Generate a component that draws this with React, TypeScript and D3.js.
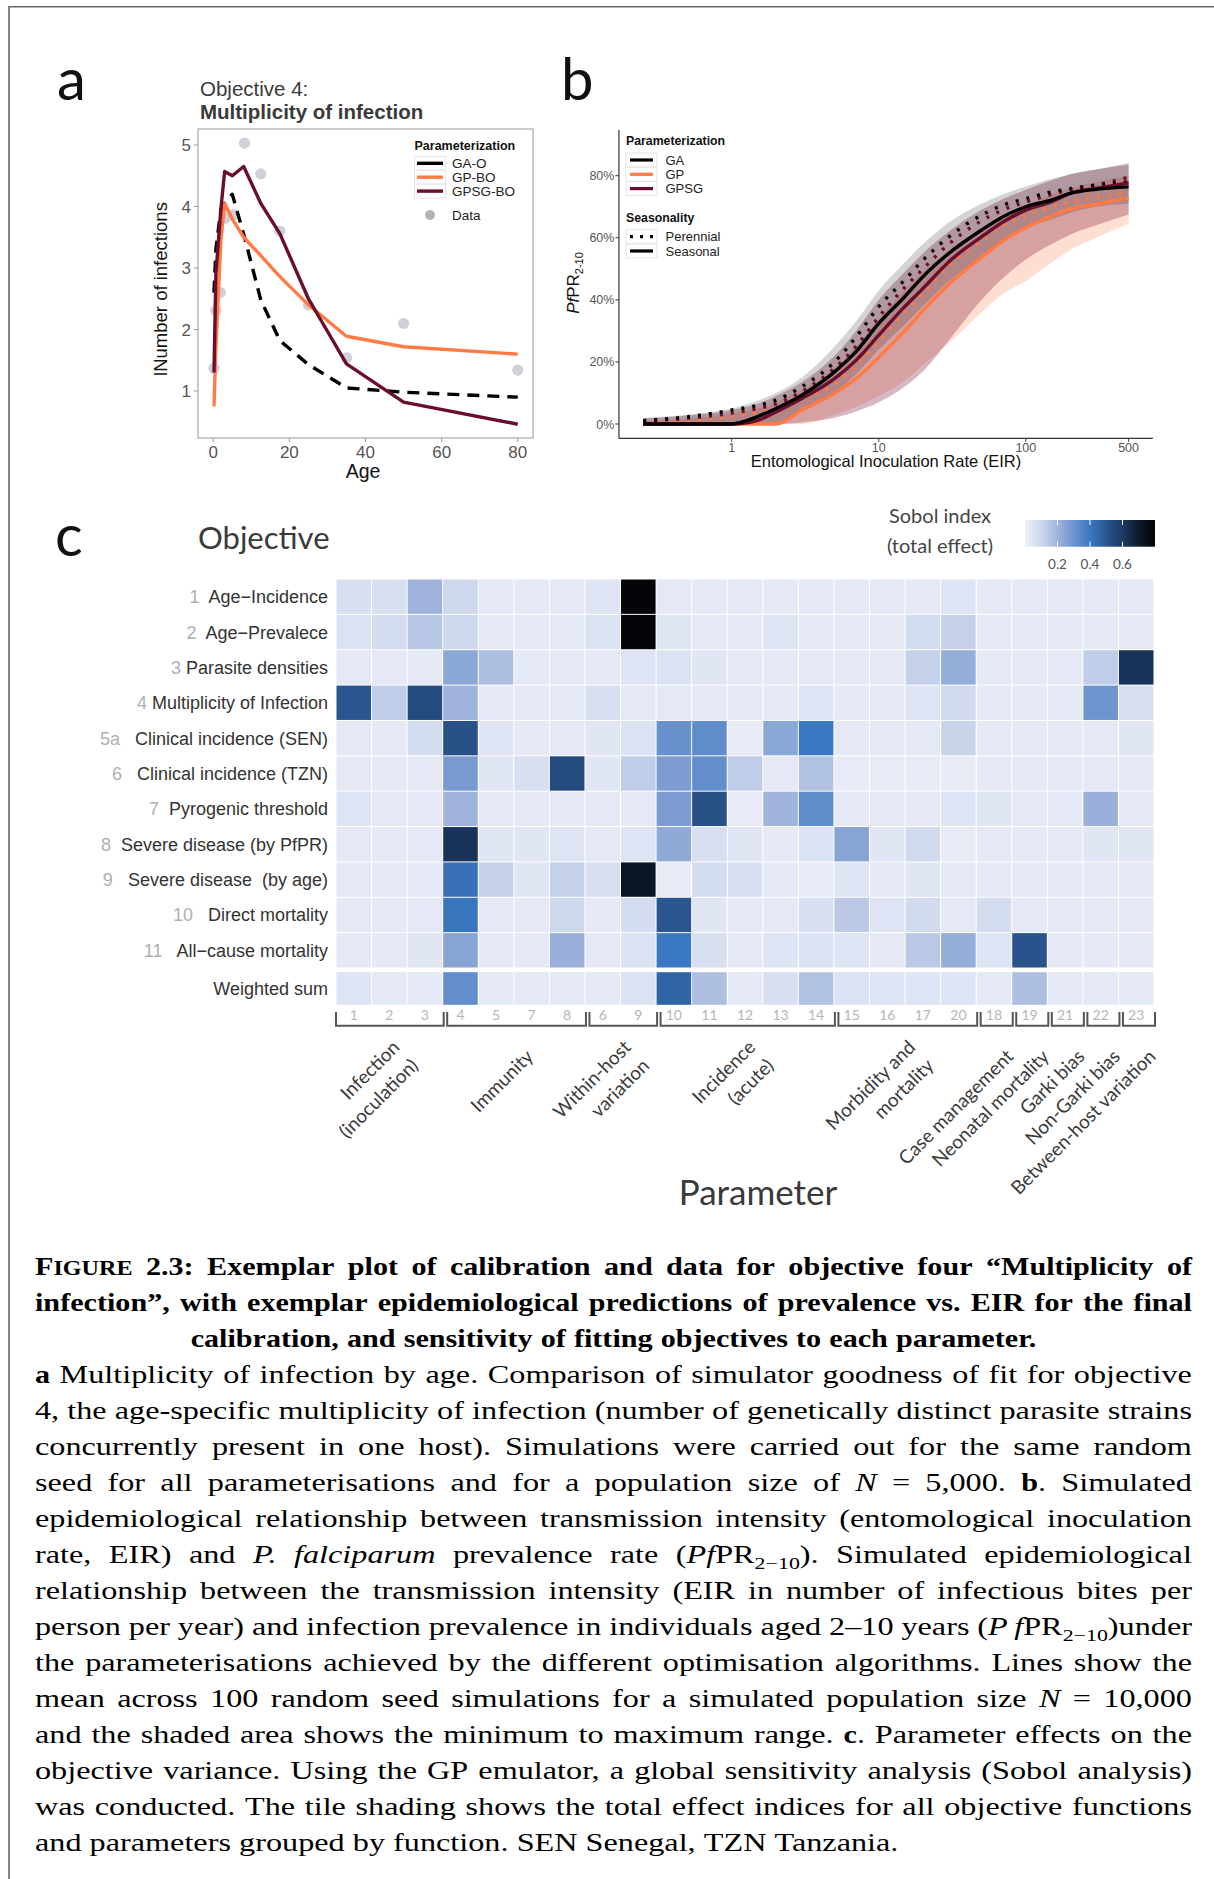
import React, { useMemo } from 'react';
import * as d3 from 'd3';

const SANS = '"Liberation Sans", Arial, sans-serif';
const HUMAN = 'Lato, "Open Sans", sans-serif';
const SERIF = '"Liberation Serif", "Times New Roman", serif';

// ---------- Panel a: multiplicity of infection by age ----------
const moiDataAges = [0.2, 0.7, 1.9, 3.2, 5.3, 8.2, 12.5, 17.5, 25, 35, 50, 80];
const moiDataValues = [1.37, 2.31, 2.6, 3.81, 3.87, 5.03, 4.53, 3.6, 2.4, 1.54, 2.1, 1.34];
const moiModelAges = [0.2, 0.7, 2, 3, 5, 8, 12.5, 17.5, 25, 35, 50, 80];
const moiGAO = [2.6, 3.3, 3.95, 4.05, 4.2, 3.55, 2.48, 1.82, 1.43, 1.05, 0.98, 0.9];
const moiGPBO = [0.75, 1.7, 3.45, 4.05, 3.8, 3.5, 3.2, 2.86, 2.4, 1.89, 1.72, 1.6];
const moiGPSGBO = [1.3, 2.9, 3.95, 4.57, 4.5, 4.65, 4.05, 3.56, 2.5, 1.44, 0.82, 0.46];
const moiAgeTicks = [0, 20, 40, 60, 80];
const moiCountTicks = [1, 2, 3, 4, 5];
const moiLegend = ['GA-O', 'GP-BO', 'GPSG-BO'];

// ---------- Panel b: PfPR(2-10) vs EIR ----------
const eirLevels = [0.25, 0.5, 1, 1.5, 2, 3, 5, 7, 10, 15, 20, 30, 50, 70, 100, 150, 200, 300, 500];
const gaSeasonal = [0, 0, 0, 2.4, 5, 9.3, 16.8, 23.3, 32.4, 41, 47.5, 55, 62.5, 66.8, 70, 72.2, 74.3, 75.6, 76.4];
const gaPerennial = [1.1, 2.3, 4.5, 6, 7.7, 12, 20, 28, 37.8, 46.4, 52.8, 60.3, 67.3, 70.5, 72.6, 74.8, 75.8, 77, 78];
const gpsgSeasonal = [0, 0, 0, 1.2, 3.9, 8.2, 14.6, 20.5, 28.6, 37.8, 43.7, 52.3, 60.3, 65.1, 68.9, 71.6, 74.3, 75.9, 77.7];
const gpsgPerennial = [1.0, 1.8, 3.5, 5, 6.5, 10.5, 18, 25, 34.5, 44, 50, 58, 65.5, 69, 71.5, 74, 75.5, 77, 79.5];
const gpSeasonal = [0, 0, 0, 0, 0, 4.5, 9.9, 14.6, 21.5, 30, 36.5, 45, 53.7, 59, 63.3, 67, 69.2, 70.8, 72.9];
const gpPerennial = [0.5, 1.2, 2.5, 3.8, 5, 8, 13, 19, 26.5, 36, 42, 51, 59, 64, 67, 70, 71.5, 73, 74.5];
const gaUpper = [2.0, 3.0, 5.0, 7.5, 10, 15, 25, 33, 43, 52, 58, 65, 71, 74, 76.5, 79, 80.5, 82, 83.5];
const gaLower = [0, 0, 0, 0, 0.5, 4, 10, 16, 24, 32, 38, 46, 54, 59, 63, 66, 68, 70, 71];
const gpsgUpper = [1.8, 2.7, 4.5, 6.5, 9, 13.5, 22, 30, 40, 49, 55, 62, 69, 72.5, 75.5, 78.5, 80.5, 82, 84];
const gpsgLower = [0, 0, 0, 0, 0, 0.5, 2, 4, 7, 12, 17, 27, 40, 47, 53, 58, 61, 64, 67.5];
const gpUpper = [1.0, 1.8, 3.5, 5, 7, 11, 18, 25, 34, 43, 49, 56, 63, 67, 70.5, 74, 76, 78, 80];
const gpLower = [0, 0, 0, 0, 0, 0, 3, 5.5, 9, 14, 19, 26, 36, 42, 46, 52, 56, 60, 64.5];
const eirTicks = [1, 10, 100, 500];
const prevTicks = [0, 20, 40, 60, 80];
const parLegend = ['GA', 'GP', 'GPSG'];
const seasonLegend = ['Perennial', 'Seasonal'];

// ---------- Panel c: Sobol total-effect indices ----------
const paramIds = ['1', '2', '3', '4', '5', '7', '8', '6', '9', '10', '11', '12', '13', '14', '15', '16', '17', '20', '18', '19', '21', '22', '23'];
const groupNames = [
  ['Infection', '(inoculation)'],
  ['Immunity'],
  ['Within-host', 'variation'],
  ['Incidence', '(acute)'],
  ['Morbidity and', 'mortality'],
  ['Case management'],
  ['Neonatal mortality'],
  ['Garki bias'],
  ['Non-Garki bias'],
  ['Between-host variation'],
];
const groupSizes = [3, 4, 2, 5, 4, 1, 1, 1, 1, 1];
const objectiveNums = ['1', '2', '3', '4', '5a', '6', '7', '8', '9', '10', '11', ''];
const objectiveNames = [
  'Age−Incidence', 'Age−Prevalece', 'Parasite densities', 'Multiplicity of Infection',
  'Clinical incidence (SEN)', 'Clinical incidence (TZN)', 'Pyrogenic threshold',
  'Severe disease (by PfPR)', 'Severe disease  (by age)', 'Direct mortality',
  'All−cause mortality', 'Weighted sum',
];
const objectiveGaps = [2, 2, 1, 1, 3, 3, 2, 2, 3, 3, 3, 0];
const sobolTotal = [
  [0.07, 0.07, 0.2, 0.1, 0.03, 0.03, 0.03, 0.05, 0.78, 0.03, 0.03, 0.03, 0.03, 0.03, 0.03, 0.03, 0.03, 0.05, 0.03, 0.03, 0.03, 0.03, 0.03],
  [0.06, 0.08, 0.15, 0.1, 0.03, 0.03, 0.03, 0.06, 0.78, 0.04, 0.03, 0.03, 0.05, 0.03, 0.03, 0.03, 0.08, 0.12, 0.03, 0.03, 0.03, 0.03, 0.03],
  [0.03, 0.03, 0.03, 0.24, 0.17, 0.03, 0.03, 0.03, 0.05, 0.06, 0.04, 0.03, 0.03, 0.03, 0.03, 0.03, 0.12, 0.22, 0.03, 0.03, 0.03, 0.13, 0.62],
  [0.5, 0.13, 0.54, 0.2, 0.03, 0.03, 0.03, 0.07, 0.03, 0.03, 0.03, 0.03, 0.03, 0.05, 0.03, 0.03, 0.05, 0.09, 0.03, 0.03, 0.03, 0.3, 0.07],
  [0.03, 0.03, 0.08, 0.52, 0.05, 0.03, 0.03, 0.04, 0.06, 0.31, 0.33, 0.02, 0.24, 0.4, 0.03, 0.03, 0.03, 0.11, 0.03, 0.03, 0.03, 0.03, 0.04],
  [0.03, 0.03, 0.03, 0.28, 0.04, 0.07, 0.54, 0.04, 0.13, 0.27, 0.32, 0.13, 0.03, 0.16, 0.02, 0.02, 0.02, 0.02, 0.03, 0.03, 0.03, 0.03, 0.03],
  [0.05, 0.03, 0.03, 0.2, 0.03, 0.03, 0.03, 0.03, 0.03, 0.27, 0.52, 0.02, 0.2, 0.33, 0.03, 0.03, 0.03, 0.05, 0.04, 0.03, 0.03, 0.21, 0.03],
  [0.03, 0.03, 0.03, 0.62, 0.04, 0.04, 0.05, 0.03, 0.05, 0.23, 0.07, 0.04, 0.03, 0.06, 0.25, 0.04, 0.09, 0.02, 0.03, 0.03, 0.03, 0.04, 0.04],
  [0.03, 0.03, 0.03, 0.42, 0.12, 0.04, 0.12, 0.07, 0.72, 0.02, 0.08, 0.07, 0.03, 0.02, 0.05, 0.03, 0.04, 0.03, 0.03, 0.03, 0.03, 0.03, 0.03],
  [0.03, 0.03, 0.03, 0.41, 0.03, 0.03, 0.1, 0.03, 0.08, 0.5, 0.04, 0.03, 0.03, 0.07, 0.14, 0.05, 0.09, 0.03, 0.08, 0.03, 0.03, 0.03, 0.03],
  [0.03, 0.03, 0.04, 0.25, 0.03, 0.03, 0.21, 0.03, 0.06, 0.4, 0.07, 0.03, 0.05, 0.06, 0.05, 0.03, 0.14, 0.22, 0.05, 0.51, 0.03, 0.03, 0.03],
  [0.05, 0.03, 0.03, 0.32, 0.03, 0.03, 0.03, 0.03, 0.06, 0.46, 0.17, 0.03, 0.07, 0.16, 0.06, 0.05, 0.05, 0.05, 0.03, 0.17, 0.03, 0.03, 0.03],
];
const sobolTicks = [0.2, 0.4, 0.6];

// ---------- Caption ----------
// Markup: *bold*, _italic_, ~subscript~, {small caps}
const captionLines: [string, 'justify' | 'center' | 'left'][] = [
  ['*F{IGURE} 2.3:  Exemplar plot of calibration and data for objective four “Multiplicity of*', 'justify'],
  ['*infection”, with exemplar epidemiological predictions of prevalence vs. EIR for the final*', 'justify'],
  ['*calibration, and sensitivity of fitting objectives to each parameter.*', 'center'],
  ['*a* Multiplicity of infection by age.  Comparison of simulator goodness of fit for objective', 'justify'],
  ['4, the age-specific multiplicity of infection (number of genetically distinct parasite strains', 'justify'],
  ['concurrently present in one host).  Simulations were carried out for the same random', 'justify'],
  ['seed for all parameterisations and for a population size of _N_ = 5,000.  *b*.  Simulated', 'justify'],
  ['epidemiological relationship between transmission intensity (entomological inoculation', 'justify'],
  ['rate, EIR) and _P. falciparum_ prevalence rate (_Pf_PR~2−10~).  Simulated epidemiological', 'justify'],
  ['relationship between the transmission intensity (EIR in number of infectious bites per', 'justify'],
  ['person per year) and infection prevalence in individuals aged 2–10 years (_P\u2009f_PR~2−10~)under', 'justify'],
  ['the parameterisations achieved by the different optimisation algorithms.  Lines show the', 'justify'],
  ['mean across 100 random seed simulations for a simulated population size _N_ = 10,000', 'justify'],
  ['and the shaded area shows the minimum to maximum range. *c*. Parameter effects on the', 'justify'],
  ['objective variance.  Using the GP emulator, a global sensitivity analysis (Sobol analysis)', 'justify'],
  ['was conducted.  The tile shading shows the total effect indices for all objective functions', 'justify'],
  ['and parameters grouped by function. SEN Senegal, TZN Tanzania.', 'left'],
];

const C_BLACK = '#000000';
const C_ORANGE = '#ff7a45';
const C_MAROON = '#6b0d2c';

function PanelA() {
  const x = d3.scaleLinear().domain([-4, 84]).range([198, 533]);
  const y = d3.scaleLinear().domain([1, 5]).range([391, 145]);
  const line = (vals: number[]) =>
    d3.line<number>().x((_, i) => x(moiModelAges[i])).y((d) => y(d))(vals) || '';
  const colors = [C_BLACK, C_ORANGE, C_MAROON];
  const series = [moiGAO, moiGPBO, moiGPSGBO];
  const top = 129, bottom = 438;
  return (
    <g>
      <text x={57} y={100} fontFamily={HUMAN} fontSize={58} fill="#111">a</text>
      <text x={200} y={96} fontFamily={SANS} fontSize={20.5} fill="#3a3a3a">Objective 4:</text>
      <text x={200} y={119} fontFamily={SANS} fontSize={20.5} fontWeight="bold" fill="#3a3a3a">Multiplicity of infection</text>
      <rect x={x.range()[0]} y={top} width={x.range()[1] - x.range()[0]} height={bottom - top} fill="#fff" stroke="#b5b5b5" strokeWidth={1.4} />
      {moiCountTicks.map((t) => (
        <g key={t}>
          <line x1={194} x2={198} y1={y(t)} y2={y(t)} stroke="#999" strokeWidth={1} />
          <text x={191} y={y(t)} dy="0.36em" textAnchor="end" fontFamily={SANS} fontSize={17} fill="#555">{t}</text>
        </g>
      ))}
      {moiAgeTicks.map((t) => (
        <g key={t}>
          <line x1={x(t)} x2={x(t)} y1={bottom} y2={bottom + 4} stroke="#999" strokeWidth={1} />
          <text x={x(t)} y={458} textAnchor="middle" fontFamily={SANS} fontSize={17} fill="#555">{t}</text>
        </g>
      ))}
      <text x={363} y={478} textAnchor="middle" fontFamily={SANS} fontSize={19.5} fill="#111">Age</text>
      <text transform="translate(167,289) rotate(-90)" textAnchor="middle" fontFamily={SANS} fontSize={18.5} fill="#111">lNumber of infections</text>
      {moiDataAges.map((a, i) => (
        <circle key={i} cx={x(a)} cy={y(moiDataValues[i])} r={5.6} fill="#cfd0d8" />
      ))}
      {series.map((s, k) => (
        <path key={k} d={line(s)} fill="none" stroke={colors[k]} strokeWidth={3.4}
          strokeDasharray={k === 0 ? '12 8' : undefined} strokeLinejoin="round" />
      ))}
      {/* legend */}
      <text x={414.5} y={150} fontFamily={SANS} fontSize={12.5} fontWeight="bold" fill="#111">Parameterization</text>
      {moiLegend.map((name, k) => {
        const cy = 163.3 + k * 13.9;
        return (
          <g key={name}>
            <rect x={414.5} y={cy - 7} width={31.3} height={14} fill="#fff" stroke="#e3e3e3" strokeWidth={1} />
            <line x1={417} x2={443} y1={cy} y2={cy} stroke={colors[k]} strokeWidth={3.4} />
            <text x={452} y={cy} dy="0.36em" fontFamily={SANS} fontSize={13.5} fill="#222">{name}</text>
          </g>
        );
      })}
      <circle cx={430} cy={215} r={5} fill="#b3b3b8" />
      <text x={452} y={215} dy="0.36em" fontFamily={SANS} fontSize={13.5} fill="#222">Data</text>
    </g>
  );
}

function PanelB() {
  const x = d3.scaleLog().domain([0.25, 500]).range([643.2, 1128.6]);
  const y = d3.scaleLinear().domain([0, 80]).range([424, 175.7]);
  const area = (lo: number[], hi: number[]) =>
    d3.area<number>().x((_, i) => x(eirLevels[i])).y0((_, i) => y(lo[i])).y1((_, i) => y(hi[i])).curve(d3.curveMonotoneX)(lo) || '';
  const line = (v: number[]) =>
    d3.line<number>().x((_, i) => x(eirLevels[i])).y((d) => y(d)).curve(d3.curveMonotoneX)(v) || '';
  const pad = (x.range()[1] - x.range()[0]) * 0.05;
  const axisLeft = x.range()[0] - pad;
  const axisRight = x.range()[1] + pad;
  const axisBottom = 438.3;
  const ribbons = [
    { lo: gpLower, hi: gpUpper, fill: '#ff8a5c', op: 0.28 },
    { lo: gpsgLower, hi: gpsgUpper, fill: '#7a1434', op: 0.3 },
    { lo: gaLower, hi: gaUpper, fill: '#000', op: 0.17 },
  ];
  const perennial = [
    { v: gpPerennial, c: C_ORANGE },
    { v: gpsgPerennial, c: C_MAROON },
    { v: gaPerennial, c: C_BLACK },
  ];
  const seasonal = [
    { v: gpSeasonal, c: C_ORANGE },
    { v: gpsgSeasonal, c: C_MAROON },
    { v: gaSeasonal, c: C_BLACK },
  ];
  const parColors = [C_BLACK, C_ORANGE, C_MAROON];
  return (
    <g>
      <text x={561} y={100} fontFamily={HUMAN} fontSize={58} fill="#111">b</text>
      {ribbons.map((r, k) => (
        <path key={k} d={area(r.lo, r.hi)} fill={r.fill} fillOpacity={r.op} stroke="none" />
      ))}
      {perennial.map((s, k) => (
        <path key={'p' + k} d={line(s.v)} fill="none" stroke={s.c} strokeWidth={3.4} strokeDasharray="3 8" />
      ))}
      {seasonal.map((s, k) => (
        <path key={'s' + k} d={line(s.v)} fill="none" stroke={s.c} strokeWidth={3.4} strokeLinejoin="round" />
      ))}
      <line x1={axisLeft} x2={axisLeft} y1={130} y2={axisBottom} stroke="#333" strokeWidth={1.2} />
      <line x1={axisLeft} x2={axisRight} y1={axisBottom} y2={axisBottom} stroke="#333" strokeWidth={1.2} />
      {prevTicks.map((t) => (
        <g key={t}>
          <line x1={axisLeft - 3.5} x2={axisLeft} y1={y(t)} y2={y(t)} stroke="#333" strokeWidth={1} />
          <text x={axisLeft - 4.5} y={y(t)} dy="0.36em" textAnchor="end" fontFamily={SANS} fontSize={12.5} fill="#555">{t}%</text>
        </g>
      ))}
      {eirTicks.map((t) => (
        <g key={t}>
          <line x1={x(t)} x2={x(t)} y1={axisBottom} y2={axisBottom + 3.5} stroke="#333" strokeWidth={1} />
          <text x={x(t)} y={452} textAnchor="middle" fontFamily={SANS} fontSize={12.5} fill="#555">{t}</text>
        </g>
      ))}
      <text x={886} y={467} textAnchor="middle" fontFamily={SANS} fontSize={16.5} fill="#111">Entomological Inoculation Rate (EIR)</text>
      <text transform="translate(579,283) rotate(-90)" textAnchor="middle" fontFamily={SANS} fontSize={17} fill="#111">
        <tspan fontStyle="italic">Pf</tspan>PR<tspan fontSize={11} dy={4}>2-10</tspan>
      </text>
      {/* legend */}
      <text x={626} y={145} fontFamily={SANS} fontSize={12.3} fontWeight="bold" fill="#111">Parameterization</text>
      {parLegend.map((name, k) => {
        const cy = 160 + k * 14.3;
        return (
          <g key={name}>
            <rect x={626} y={cy - 7} width={31} height={14} fill="#fff" stroke="#e3e3e3" strokeWidth={1} />
            <line x1={630} x2={653} y1={cy} y2={cy} stroke={parColors[k]} strokeWidth={3.2} />
            <text x={665.5} y={cy} dy="0.36em" fontFamily={SANS} fontSize={13} fill="#222">{name}</text>
          </g>
        );
      })}
      <text x={626} y={221.5} fontFamily={SANS} fontSize={12.3} fontWeight="bold" fill="#111">Seasonality</text>
      {seasonLegend.map((name, k) => {
        const cy = 236.7 + k * 14.3;
        return (
          <g key={name}>
            <rect x={626} y={cy - 7} width={31} height={14} fill="#fff" stroke="#e3e3e3" strokeWidth={1} />
            <line x1={630} x2={653} y1={cy} y2={cy} stroke="#000" strokeWidth={3.2}
              strokeDasharray={k === 0 ? '3 7' : undefined} />
            <text x={665.5} y={cy} dy="0.36em" fontFamily={SANS} fontSize={13} fill="#222">{name}</text>
          </g>
        );
      })}
    </g>
  );
}

const sobolColor = d3
  .scaleLinear<string>()
  .domain([0, 0.1, 0.2, 0.3, 0.4, 0.5, 0.6, 0.7, 0.8])
  .range(['#eef0f8', '#ced8ed', '#9fb3dc', '#6e94cd', '#3b78c2', '#2a5690', '#1c3a62', '#0e1b2e', '#000000'])
  .interpolate(d3.interpolateRgb)
  .clamp(true);

function PanelC() {
  const x = d3.scaleBand<string>().domain(paramIds).range([336, 1154]);
  const mainRows = d3.scaleBand<number>().domain(d3.range(11)).range([579, 968]);
  const bw = x.bandwidth();
  const rowTop = (i: number) => (i < 11 ? (mainRows(i) as number) : 971.7);
  const rowH = (i: number) => (i < 11 ? mainRows.bandwidth() : 33.6);
  const cb = d3.scaleLinear().domain([0, 0.8]).range([1025, 1155]);

  // group extents along the parameter axis
  let cursor = 0;
  const groups = groupSizes.map((n, g) => {
    const first = paramIds[cursor];
    const last = paramIds[cursor + n - 1];
    cursor += n;
    const x0 = (x(first) as number) + (g === 0 ? 0 : 4.5);
    const x1 = (x(last) as number) + bw + 1;
    const cx = ((x(first) as number) + (x(last) as number) + bw) / 2;
    return { x0, x1, cx, name: groupNames[g] };
  });

  return (
    <g>
      <text x={55} y={556} fontFamily={HUMAN} fontSize={58} fill="#111">c</text>
      <text x={198} y={549} fontFamily={HUMAN} fontSize={31} fill="#3a3a3a">Objective</text>
      <text x={940} y={523} textAnchor="middle" fontFamily={HUMAN} fontSize={20} fill="#444">Sobol index</text>
      <text x={940} y={553} textAnchor="middle" fontFamily={HUMAN} fontSize={20} fill="#444">(total effect)</text>
      <defs>
        <linearGradient id="sobolGrad" x1="0" x2="1" y1="0" y2="0">
          {d3.range(0, 1.0001, 0.05).map((o) => (
            <stop key={o} offset={o} stopColor={sobolColor(o * 0.8)} />
          ))}
        </linearGradient>
      </defs>
      <rect x={cb.range()[0]} y={520} width={cb.range()[1] - cb.range()[0]} height={26.7} fill="url(#sobolGrad)" />
      {sobolTicks.map((t) => (
        <g key={t}>
          <line x1={cb(t)} x2={cb(t)} y1={520} y2={525} stroke="#fff" strokeWidth={1} />
          <line x1={cb(t)} x2={cb(t)} y1={541.7} y2={546.7} stroke="#fff" strokeWidth={1} />
          <text x={cb(t)} y={569} textAnchor="middle" fontFamily={HUMAN} fontSize={13.5} fill="#555">{t}</text>
        </g>
      ))}
      {sobolTotal.map((row, i) =>
        row.map((v, j) => (
          <rect key={i + '-' + j} x={(x(paramIds[j]) as number) + 0.5} y={rowTop(i) + 0.5}
            width={bw - 1} height={rowH(i) - 1} fill={sobolColor(v)} />
        ))
      )}
      {objectiveNames.map((name, i) => (
        <text key={name} x={328} y={rowTop(i) + rowH(i) / 2} dy="0.36em" textAnchor="end"
          fontFamily={SANS} fontSize={18} fill="#333" xmlSpace="preserve" style={{ whiteSpace: 'pre' }}>
          <tspan fill="#b0b0b0">{objectiveNums[i]}</tspan>
          {' '.repeat(objectiveGaps[i]) + name}
        </text>
      ))}
      {paramIds.map((id) => (
        <text key={id} x={(x(id) as number) + bw / 2} y={1020} textAnchor="middle"
          fontFamily={HUMAN} fontSize={14} fill="#b5b5b5">{id}</text>
      ))}
      {groups.map((g, k) => (
        <g key={k}>
          <path d={`M${g.x0},1012 V1025.8 H${g.x1} V1012`} fill="none" stroke="#555" strokeWidth={2} />
          <text transform={`translate(${g.cx + 16},1053) rotate(-45)`} textAnchor="end"
            fontFamily={HUMAN} fontSize={19} fill="#3a3a3a">
            {g.name.map((ln, li) => (
              <tspan key={li} x={0} y={(li - (g.name.length - 1) / 2) * 26} dy="0.35em">{ln}</tspan>
            ))}
          </text>
        </g>
      ))}
      <text x={758} y={1205} textAnchor="middle" fontFamily={HUMAN} fontSize={35} fill="#3a3a3a">Parameter</text>
    </g>
  );
}

type Run = { t: string; b: boolean; it: boolean; sub: boolean; sc: boolean };

function parseWords(src: string): Run[][] {
  const words: Run[][] = [];
  let cur: Run[] = [];
  const st = { b: false, it: false, sub: false, sc: false };
  let buf = '';
  const flush = () => {
    if (buf) {
      cur.push({ t: buf, ...st });
      buf = '';
    }
  };
  for (const ch of src) {
    if (ch === '*') { flush(); st.b = !st.b; }
    else if (ch === '_') { flush(); st.it = !st.it; }
    else if (ch === '~') { flush(); st.sub = !st.sub; }
    else if (ch === '{') { flush(); st.sc = true; }
    else if (ch === '}') { flush(); st.sc = false; }
    else if (ch === ' ') {
      flush();
      if (cur.length) { words.push(cur); cur = []; }
    } else buf += ch;
  }
  flush();
  if (cur.length) words.push(cur);
  return words;
}

const CAP_SIZE = 26;
// horizontal widening of the caption face (book-style proportions); bold is already wide
const stretchOf = (r: Run) => (r.b ? 1.16 : 1.24);
const runSize = (r: Run) => CAP_SIZE * (r.sub ? 0.68 : r.sc ? 0.8 : 1);
const runFont = (r: Run) => `${r.it ? 'italic ' : ''}${r.b ? 'bold ' : ''}${runSize(r)}px ${SERIF}`;

function Caption() {
  const laid = useMemo(() => {
    const ctx = typeof document !== 'undefined' ? document.createElement('canvas').getContext('2d') : null;
    const measure = (r: Run) => {
      if (!ctx) return r.t.length * runSize(r) * 0.45 * stretchOf(r);
      ctx.font = runFont(r);
      return ctx.measureText(r.t).width * stretchOf(r);
    };
    const spaceW = (() => {
      if (!ctx) return CAP_SIZE * 0.3;
      ctx.font = `${CAP_SIZE}px ${SERIF}`;
      return ctx.measureText(' ').width * 1.24;
    })();
    const left = 35, right = 1192;
    const out: { x: number; y: number; r: Run }[] = [];
    captionLines.forEach(([src, align], li) => {
      const baseline = 1275 + li * 36;
      const words = parseWords(src);
      const widths = words.map((w) => w.map(measure));
      const wordW = widths.map((ws) => ws.reduce((a, b) => a + b, 0));
      const total = wordW.reduce((a, b) => a + b, 0);
      let gap = spaceW;
      let xPos = left;
      if (align === 'justify' && words.length > 1) gap = (right - left - total) / (words.length - 1);
      if (align === 'center') xPos = (left + right) / 2 - (total + gap * (words.length - 1)) / 2;
      words.forEach((w, wi) => {
        let xr = xPos;
        w.forEach((r, ri) => {
          out.push({ x: xr, y: baseline + (r.sub ? 6 : 0), r });
          xr += widths[wi][ri];
        });
        xPos += wordW[wi] + gap;
      });
    });
    return out;
  }, []);
  return (
    <g>
      {laid.map((p, i) => (
        <text key={i} transform={`translate(${p.x},${p.y}) scale(${stretchOf(p.r)},1)`} fontFamily={SERIF} fontSize={runSize(p.r)}
          fontWeight={p.r.b ? 'bold' : 'normal'} fontStyle={p.r.it ? 'italic' : 'normal'} fill="#000">
          {p.r.t}
        </text>
      ))}
    </g>
  );
}

export default function App() {
  return (
    <div style={{ position: 'absolute', left: 0, top: 0 }}>
      <svg width={1214} height={1879} style={{ display: 'block', background: '#fff' }}>
        <line x1={9} x2={1214} y1={6.8} y2={6.8} stroke="#666" strokeWidth={1.6} />
        <line x1={9} x2={9} y1={6} y2={1879} stroke="#666" strokeWidth={1.6} />
        <PanelA />
        <PanelB />
        <PanelC />
        <Caption />
      </svg>
    </div>
  );
}
